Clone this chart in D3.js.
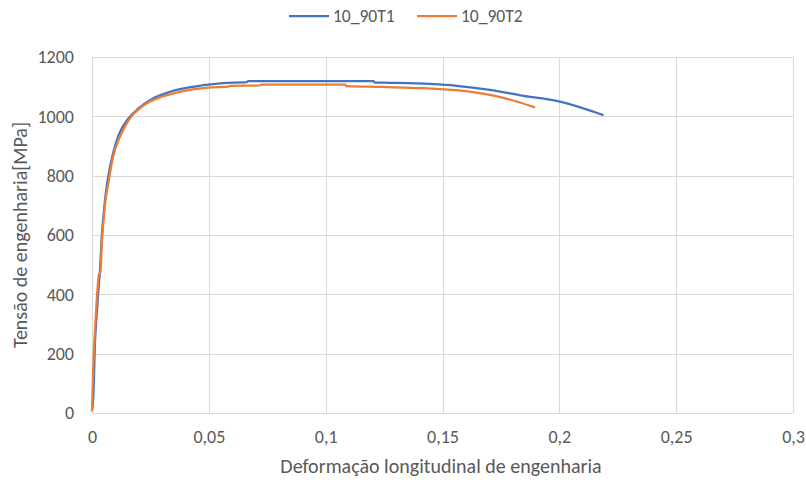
<!DOCTYPE html>
<html>
<head>
<meta charset="utf-8">
<script src="https://cdn.jsdelivr.net/npm/d3@7"></script>
<style>
  html, body { margin: 0; padding: 0; background: #fff; }
  svg { display: block; font-family: Carlito, Lato, "Open Sans", sans-serif; }
</style>
</head>
<body>
<svg id="chart" width="806" height="482"></svg>
<script>
// Engineering stress-strain curves for two specimens
const seriesNames = ["10_90T1", "10_90T2"];
const seriesColors = ["#4472C4", "#ED7D31"];

const strainT1 = [0, 0.0006, 0.0013, 0.002, 0.0027, 0.0034, 0.0041, 0.0056, 0.007, 0.0091, 0.0113, 0.0155, 0.0198, 0.0255, 0.0327, 0.0398, 0.047, 0.0498, 0.0562, 0.0662, 0.0668, 0.0900, 0.1204, 0.121, 0.1275, 0.1447, 0.156, 0.1703, 0.1846, 0.1988, 0.2103, 0.2189];
const stressT1 = [10, 60, 240, 330, 410, 478, 585, 720, 800, 878, 935, 992, 1026, 1058, 1081, 1095, 1104, 1107, 1112, 1115, 1119, 1119, 1119, 1114, 1113, 1109, 1103, 1089, 1069, 1052, 1027, 1004];

const strainT2 = [0, 0.0005, 0.001, 0.0015, 0.0022, 0.003, 0.0036, 0.0042, 0.0056, 0.007, 0.0091, 0.012, 0.0155, 0.0227, 0.0298, 0.0384, 0.0498, 0.0584, 0.059, 0.0717, 0.0723, 0.1083, 0.1089, 0.124, 0.1418, 0.156, 0.1703, 0.1817, 0.1896];
const stressT2 = [5, 150, 240, 310, 400, 468, 475, 570, 705, 775, 866, 932, 985, 1040, 1066, 1084, 1097, 1100, 1103, 1104, 1107, 1107, 1102, 1099, 1095, 1088, 1072, 1050, 1030];

const xTicks = [0, 0.05, 0.1, 0.15, 0.2, 0.25, 0.3];
const yTicks = [0, 200, 400, 600, 800, 1000, 1200];
const xTitle = "Deformação longitudinal de engenharia";
const yTitle = "Tensão de engenharia[MPa]";

const svg = d3.select("#chart");
const margin = { left: 92, top: 57, right: 13, bottom: 69 };
const W = 806, H = 482;
const iw = W - margin.left - margin.right;
const ih = H - margin.top - margin.bottom;

const x = d3.scaleLinear().domain([0, 0.3]).range([margin.left, margin.left + iw]);
const y = d3.scaleLinear().domain([0, 1200]).range([margin.top + ih, margin.top]);

const fmt = v => String(v).replace(".", ",");

// Gridlines
const grid = svg.append("g").attr("stroke", "#d9d9d9").attr("stroke-width", 1);
yTicks.forEach(t => {
  grid.append("line").attr("x1", x(0)).attr("x2", x(0.3))
    .attr("y1", Math.round(y(t)) + 0.5).attr("y2", Math.round(y(t)) + 0.5);
});
xTicks.forEach(t => {
  grid.append("line").attr("y1", y(0)).attr("y2", y(1200))
    .attr("x1", Math.round(x(t)) + 0.5).attr("x2", Math.round(x(t)) + 0.5);
});

// Axes (labels only; lines come from gridlines)
const xAxis = svg.append("g").attr("transform", `translate(0,${y(0) + 16})`)
  .call(d3.axisBottom(x).tickValues(xTicks).tickFormat(fmt).tickSize(0));
xAxis.select(".domain").remove();
xAxis.selectAll("text").attr("fill", "#595959").attr("font-size", 18).attr("dy", "0.6em");

const yAxis = svg.append("g").attr("transform", `translate(${x(0) - 15},0)`)
  .call(d3.axisLeft(y).tickValues(yTicks).tickFormat(fmt).tickSize(0));
yAxis.select(".domain").remove();
yAxis.selectAll("text").attr("fill", "#595959").attr("font-size", 18);
svg.selectAll("g").attr("font-family", null);

// Axis titles
svg.append("text").attr("x", 441).attr("y", 473).attr("text-anchor", "middle")
  .attr("fill", "#595959").attr("font-size", 20).text(xTitle);
svg.append("text").attr("transform", `translate(27,${y(600)}) rotate(-90)`)
  .attr("text-anchor", "middle").attr("fill", "#595959").attr("font-size", 20).text(yTitle);

// Curves
const series = [
  { name: seriesNames[0], color: seriesColors[0], pts: d3.zip(strainT1, stressT1) },
  { name: seriesNames[1], color: seriesColors[1], pts: d3.zip(strainT2, stressT2) }
];
const line = d3.line().x(d => x(d[0])).y(d => y(d[1])).curve(d3.curveMonotoneX);
series.forEach(s => {
  svg.append("path").attr("d", line(s.pts)).attr("fill", "none")
    .attr("stroke", s.color).attr("stroke-width", 2.25).attr("stroke-linejoin", "round");
});

// Legend
const legendX = [289, 417];
series.forEach((s, i) => {
  const g = svg.append("g").attr("transform", `translate(${legendX[i]},16)`);
  g.append("line").attr("x1", 0).attr("x2", 40).attr("y1", 0).attr("y2", 0)
    .attr("stroke", s.color).attr("stroke-width", 2.25);
  g.append("text").attr("x", 44).attr("y", 0).attr("dy", "0.35em")
    .attr("fill", "#595959").attr("font-size", 17.5).text(s.name);
});
</script>
</body>
</html>
